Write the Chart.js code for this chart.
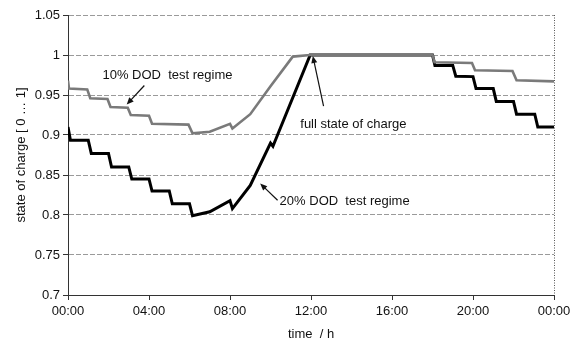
<!DOCTYPE html>
<html>
<head>
<meta charset="utf-8">
<script src="https://cdn.jsdelivr.net/npm/chart.js@4/dist/chart.umd.min.js"></script>
<style>
  html, body { margin: 0; padding: 0; background: #fff; }
  #wrap { width: 578px; height: 342px; }
</style>
</head>
<body>
<div id="wrap"><canvas id="c" width="578" height="342"></canvas></div>
<script>
// ---- data (time in hours, state of charge 0..1) ----
const hours10 = [0, 0.05, 0.95, 1.1, 1.95, 2.1, 2.95, 3.1, 4.0, 4.15, 5.95, 6.15, 7.0, 8.0, 8.12, 9.0, 10.0, 11.1, 11.96, 18.0, 18.1, 19.95, 20.1, 21.95, 22.15, 24];
const soc10   = [0.968, 0.958, 0.957, 0.946, 0.945, 0.935, 0.934, 0.925, 0.924, 0.914, 0.913, 0.902, 0.904, 0.914, 0.908, 0.926, 0.961, 0.998, 1.0, 1.0, 0.991, 0.990, 0.981, 0.980, 0.9685, 0.967];

const hours20 = [0, 0.12, 1.0, 1.15, 2.0, 2.15, 3.0, 3.15, 4.0, 4.15, 5.0, 5.15, 6.0, 6.15, 7.0, 8.0, 8.12, 9.0, 10.0, 10.12, 11.96, 18.0, 18.12, 19.0, 19.15, 20.0, 20.15, 21.0, 21.15, 22.0, 22.15, 23.05, 23.2, 24];
const soc20   = [0.910, 0.8935, 0.8935, 0.877, 0.877, 0.860, 0.860, 0.845, 0.845, 0.830, 0.830, 0.814, 0.814, 0.799, 0.804, 0.818, 0.808, 0.837, 0.890, 0.886, 1.0, 1.0, 0.987, 0.987, 0.9735, 0.973, 0.958, 0.958, 0.942, 0.942, 0.926, 0.926, 0.910, 0.910];

const seriesNames = ['10% DOD  test regime', '20% DOD  test regime'];
const xTickHours = [0, 4, 8, 12, 16, 20, 24];
const yTickValues = [0.7, 0.75, 0.8, 0.85, 0.9, 0.95, 1, 1.05];

// annotations: [text, textHour, textSoc, arrowFromHour, arrowFromSoc, arrowToHour, arrowToSoc]
const annotations = [
  ['10% DOD  test regime', 1.70, 0.9744, 3.77, 0.9619, 2.90, 0.9381],
  ['full state of charge', 11.47, 0.9131, 12.62, 0.936, 12.09, 0.9988],
  ['20% DOD  test regime', 10.45, 0.8173, 10.35, 0.8185, 9.49, 0.8394]
];

const FONT = 'Liberation Sans, Arial, sans-serif';

function pts(xs, ys) { return xs.map((x, i) => ({ x: x, y: ys[i] })); }
function fmtTime(v) { const h = ((v % 24) + 24) % 24; return (h < 10 ? '0' : '') + h + ':00'; }

const annotPlugin = {
  id: 'annot',
  afterDraw(chart) {
    const ctx = chart.ctx, xs = chart.scales.x, ys = chart.scales.y, a = chart.chartArea;
    ctx.save();
    // dotted right border
    ctx.strokeStyle = '#555';
    ctx.lineWidth = 1;
    ctx.setLineDash([1, 1.5]);
    ctx.beginPath();
    ctx.moveTo(Math.round(a.right) + 0.5, a.top);
    ctx.lineTo(Math.round(a.right) + 0.5, a.bottom);
    ctx.stroke();
    ctx.setLineDash([]);
    ctx.font = '13px ' + FONT;
    ctx.fillStyle = '#111';
    ctx.textBaseline = 'middle';
    ctx.textAlign = 'left';
    annotations.forEach(an => {
      ctx.fillText(an[0], xs.getPixelForValue(an[1]), ys.getPixelForValue(an[2]));
      const x1 = xs.getPixelForValue(an[3]), y1 = ys.getPixelForValue(an[4]);
      const x2 = xs.getPixelForValue(an[5]), y2 = ys.getPixelForValue(an[6]);
      const ang = Math.atan2(y2 - y1, x2 - x1);
      const hl = 7, hw = 3;
      ctx.strokeStyle = '#111';
      ctx.lineWidth = 1.2;
      ctx.beginPath();
      ctx.moveTo(x1, y1);
      ctx.lineTo(x2 - Math.cos(ang) * hl * 0.8, y2 - Math.sin(ang) * hl * 0.8);
      ctx.stroke();
      ctx.beginPath();
      ctx.moveTo(x2, y2);
      ctx.lineTo(x2 - Math.cos(ang) * hl + Math.sin(ang) * hw, y2 - Math.sin(ang) * hl - Math.cos(ang) * hw);
      ctx.lineTo(x2 - Math.cos(ang) * hl - Math.sin(ang) * hw, y2 - Math.sin(ang) * hl + Math.cos(ang) * hw);
      ctx.closePath();
      ctx.fillStyle = '#111';
      ctx.fill();
    });
    ctx.restore();
  }
};

new Chart(document.getElementById('c'), {
  type: 'line',
  data: {
    datasets: [
      { label: seriesNames[0], data: pts(hours10, soc10), borderColor: '#7a7a7a', borderWidth: 2.6, pointRadius: 0, tension: 0, fill: false },
      { label: seriesNames[1], data: pts(hours20, soc20), borderColor: '#000', borderWidth: 3, pointRadius: 0, tension: 0, fill: false }
    ]
  },
  options: {
    responsive: false,
    animation: false,
    events: [],
    layout: { padding: { top: 15, right: 24, left: 0, bottom: 0 } },
    plugins: { legend: { display: false }, tooltip: { enabled: false } },
    scales: {
      x: {
        type: 'linear', min: 0, max: 24,
        afterFit(s) { s.height = 47; },
        afterBuildTicks(s) { s.ticks = xTickHours.map(v => ({ value: v })); },
        ticks: { callback: fmtTime, font: { family: FONT, size: 13 }, color: '#111', padding: 4, maxRotation: 0, autoSkip: false },
        grid: { drawOnChartArea: false, drawTicks: true, tickLength: 5, tickColor: '#333' },
        border: { color: '#333', width: 1 },
        title: { display: true, text: 'time  / h', font: { family: FONT, size: 13 }, color: '#111', padding: { top: 0, bottom: 0 } }
      },
      y: {
        min: 0.7, max: 1.05,
        afterFit(s) { s.width = 68; },
        afterBuildTicks(s) { s.ticks = yTickValues.map(v => ({ value: v })); },
        ticks: { callback: v => String(+v.toFixed(2)), font: { family: FONT, size: 13 }, color: '#111', padding: 3 },
        grid: { color: '#9a9a9a', lineWidth: 1, drawTicks: true, tickLength: 5, tickColor: '#333' },
        border: { color: '#333', width: 1, dash: [5, 2] },
        title: { display: true, text: 'state of charge [ 0 … 1]', font: { family: FONT, size: 13 }, color: '#111', padding: { top: 14, bottom: 0 } }
      }
    }
  },
  plugins: [annotPlugin]
});
</script>
</body>
</html>
